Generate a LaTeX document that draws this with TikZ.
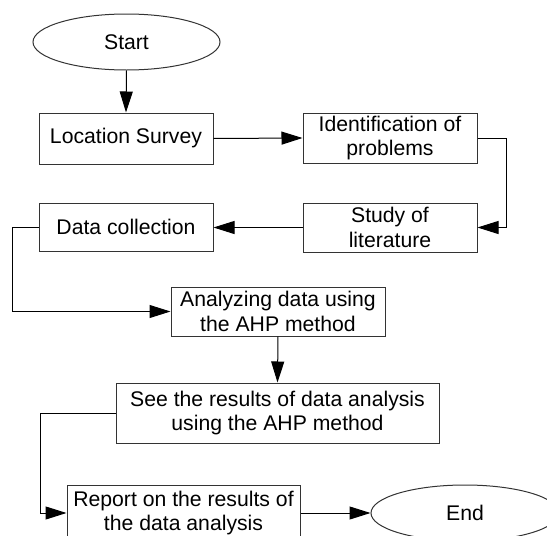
\documentclass[tikz,border=0pt]{standalone}
\usepackage{fontspec}
\setmainfont{Liberation Sans}
\usetikzlibrary{arrows.meta,shapes.geometric}
\tikzset{
  box/.style={draw=black!80, line width=1pt, inner sep=0pt, align=center,
    font=\fontsize{21.2}{24.4}\selectfont},
  oval/.style={draw=black!80, ellipse, line width=1pt, inner sep=0pt,
    font=\fontsize{21.2}{24.4}\selectfont},
  conn/.style={draw=black, line width=1pt, -{Triangle[length=21pt,width=13pt]}},
}
\begin{document}
\begin{tikzpicture}[x=1pt,y=-1pt]
\clip (0,0) rectangle (547,536);
\fill[white] (0,0) rectangle (547,536);
\node[oval, minimum width=187pt, minimum height=56pt] (start) at (126.5,42) {Start};
\node[box, minimum width=174pt, minimum height=51pt] (ls) at (126,138.5) {Location Survey};
\node[box, minimum width=174pt, minimum height=50pt] (id) at (390,138) {Identification of\\problems};
\node[box, minimum width=174pt, minimum height=49pt] (st) at (390,227.5) {Study of\\literature};
\node[box, minimum width=174pt, minimum height=48pt] (dc) at (126,227) {Data collection};
\node[box, minimum width=214pt, minimum height=49pt] (an) at (278,311.5) {Analyzing data using\\the AHP method};
\node[box, minimum width=323pt, minimum height=60pt] (see) at (277.5,413) {See the results of data analysis\\using the AHP method};
\node[box, minimum width=233pt, minimum height=56pt] (rep) at (183.5,513) {Report on the results of\\the data analysis};
\node[oval, minimum width=188pt, minimum height=56pt] (end) at (465,513) {End};
\draw[conn] (start.south) -- (ls.north);
\draw[conn] (ls.east) -- (id.west);
\draw[conn] (id.east) -- (506,138) -- (506,227.5) -- (st.east);
\draw[conn] (st.west) -- (dc.east |- st.west);
\draw[conn] (dc.west) -- (12,227) -- (12,311.5) -- (an.west);
\draw[conn] (an.south) -- (see.north);
\draw[conn] (see.west) -- (40,413) -- (40,513) -- (rep.west);
\draw[conn] (rep.east) -- (end.west);
\end{tikzpicture}
\end{document}
